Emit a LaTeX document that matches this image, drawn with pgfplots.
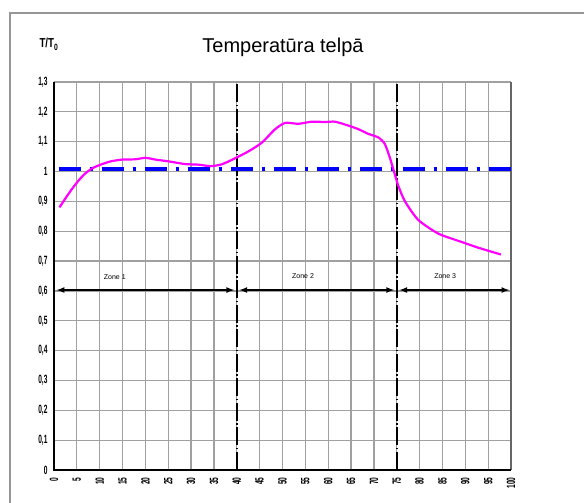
\documentclass[border=0pt]{standalone}
\usepackage{fontspec}
\setmainfont{Liberation Sans}
\newfontfamily\narrowfont[FakeStretch=0.55]{Liberation Sans}
\newfontfamily\semifont[FakeStretch=0.75]{Liberation Sans}
\usepackage{pgfplots}
\pgfplotsset{compat=1.18}
\definecolor{gridgray}{RGB}{160,160,160}
\definecolor{framegray}{RGB}{150,150,150}
\definecolor{mag}{RGB}{255,0,255}
\definecolor{bl}{RGB}{0,0,255}
\begin{document}
\begin{tikzpicture}
\begin{axis}[
  scale only axis,
  width=457pt, height=388pt,
  xmin=0, xmax=100, ymin=0, ymax=1.3,
  xtick={0,5,...,100},
  ytick={0,0.1,0.2,0.3,0.4,0.5,0.6,0.7,0.8,0.9,1.0,1.1,1.2,1.3},
  yticklabels={0,{0,1},{0,2},{0,3},{0,4},{0,5},{0,6},{0,7},{0,8},{0,9},1,{1,1},{1,2},{1,3}},
  xticklabel style={rotate=90, anchor=east, xshift=-4pt, xshift=0pt, font=\narrowfont\bfseries\fontsize{12}{12}\selectfont},
  yticklabel style={xshift=-3pt, font=\narrowfont\bfseries\fontsize{12}{12}\selectfont},
  /pgf/number format/assume math mode=true,
  major tick length=0pt,
  grid=major,
  major grid style={draw=gridgray, line width=1.3pt},
  axis line style={draw=none},
  clip=false,
]
% frame lines
\draw[gridgray, line width=1.3pt] (rel axis cs:0,1) -- (rel axis cs:1,1);
\draw[black!60, line width=2.5pt] (rel axis cs:1,0) -- (rel axis cs:1,1);
\draw[black, line width=2.8pt] (rel axis cs:0,1) -- (rel axis cs:0,0) -- (rel axis cs:1,0);
% zone separators
\addplot[black, line width=1.8pt, dash pattern=on 18pt off 2.5pt on 1.5pt off 2.5pt] coordinates {(40,0) (40,1.3)};
\addplot[black, line width=1.8pt, dash pattern=on 18pt off 2.5pt on 1.5pt off 2.5pt] coordinates {(75,0) (75,1.3)};
% reference line
\addplot[bl, line width=3.5pt, dash pattern=on 22pt off 9pt on 3pt off 9pt] coordinates {(1,1.008) (100,1.008)};
% zone arrows
\addplot[black, line width=1.6pt, <->, >=latex] coordinates {(0.6,0.603) (39.4,0.603)};
\addplot[black, line width=1.6pt, <->, >=latex] coordinates {(40.6,0.603) (74.4,0.603)};
\addplot[black, line width=1.6pt, <->, >=latex] coordinates {(75.6,0.603) (99.6,0.603)};
\node[font=\rmfamily\fontsize{7}{7}\selectfont] at (axis cs:13.3,0.645) {Zone 1};
\node[font=\rmfamily\fontsize{7}{7}\selectfont] at (axis cs:54.5,0.650) {Zone 2};
\node[font=\rmfamily\fontsize{7}{7}\selectfont] at (axis cs:85.6,0.650) {Zone 3};
% temperature curve
\addplot[mag, line width=2.2pt, smooth, tension=0.4] coordinates {
(1.2,0.880) (2.5,0.910) (4,0.943) (5.5,0.972) (6.8,0.993) (8.4,1.011) (10.2,1.023)
(12.4,1.034) (14.9,1.040) (17.8,1.041) (20,1.046) (22.2,1.040) (25.1,1.034)
(28.7,1.025) (31.7,1.023) (34.2,1.018) (36.7,1.024) (39.7,1.045) (42.6,1.068)
(45.5,1.097) (48.4,1.142) (50.6,1.163) (53.5,1.160) (56.4,1.167) (59.3,1.166)
(61.5,1.167) (64.4,1.154) (66.6,1.142) (68.8,1.126) (71,1.114) (72.4,1.092)
(73.5,1.046) (74.4,1.000) (75.3,0.954) (76.8,0.900) (79.7,0.838) (84.1,0.792)
(89.2,0.764) (92.8,0.745) (97.8,0.722)};
\node[font=\semifont\bfseries\fontsize{13}{13}\selectfont] at (axis description cs:-0.011,1.097) {T/T\textsubscript{0}};
\node[font=\fontsize{20}{20}\selectfont] at (axis description cs:0.501,1.09) {Temperatūra telpā};
\end{axis}
\pgfresetboundingbox
\path[use as bounding box] (-54pt,-33pt) rectangle (530pt,470pt);
\draw[framegray, line width=1.3pt] (-44pt,-60pt) -- (-44pt,457pt) -- (560pt,457pt);
\end{tikzpicture}
\end{document}
